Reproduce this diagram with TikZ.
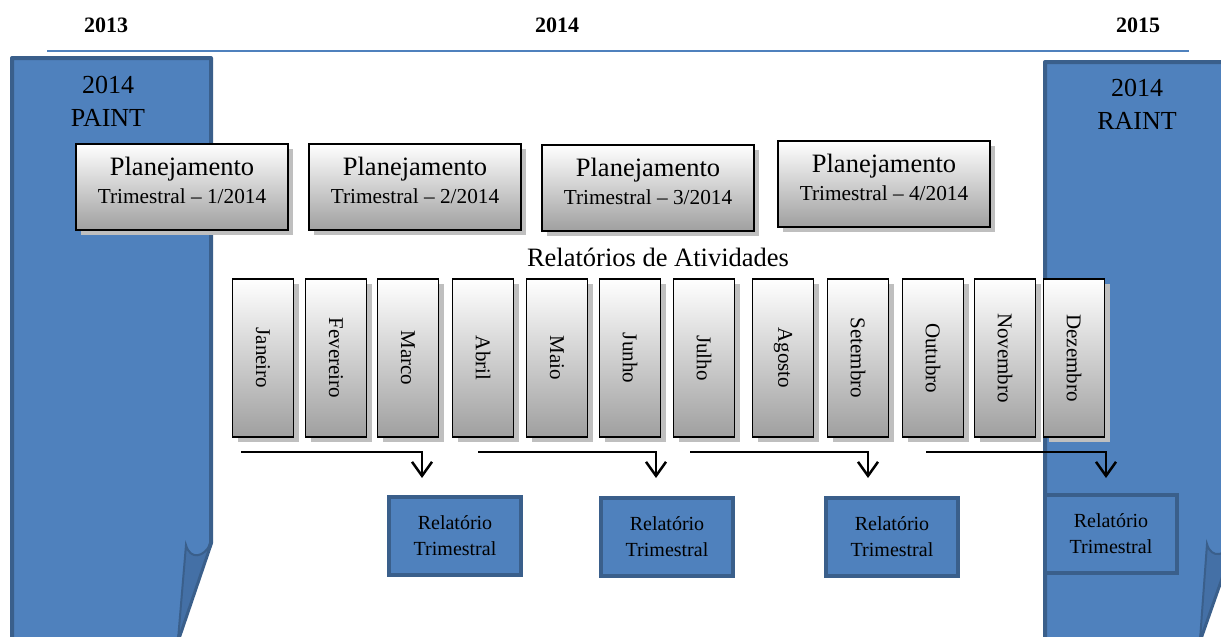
\documentclass[tikz,border=0pt]{standalone}
\usepackage{fontspec}
\setmainfont{Liberation Serif}
\usetikzlibrary{arrows.meta, shadows}
\definecolor{pageblue}{HTML}{4F81BD}
\definecolor{pageedge}{HTML}{3A5F8B}
\definecolor{flapblue}{HTML}{4470A6}

\begin{document}
\begin{tikzpicture}[x=1pt, y=-1pt,
    caixa/.style={draw=black, line width=1.5pt, top color=white, bottom color=gray!75,
      drop shadow={shadow xshift=5pt, shadow yshift=-5pt, fill=gray!50, opacity=1}},
    plano/.style={caixa, minimum width=212pt, minimum height=86pt, align=center, inner sep=0pt,
      text depth=13pt, font=\fontsize{26.5}{29}\selectfont},
    mes/.style={caixa, minimum width=61pt, minimum height=158pt, inner sep=0pt,
      font=\fontsize{21}{24}\selectfont},
    relat/.style={draw=pageedge, fill=pageblue, line width=4pt, minimum width=132pt,
      minimum height=78pt, align=center, inner sep=0pt, font=\fontsize{20}{26}\selectfont},
    fluxo/.style={line width=2.5pt, -{Straight Barb[length=14pt, width=20pt, line width=2.5pt]}},
    ano/.style={font=\fontsize{22}{24}\selectfont\bfseries},
    folha/.style={draw=pageedge, fill=pageblue, line width=4pt, line join=round}]
  \clip (0,0) rectangle (1221,637);

  \draw[folha] (12,58) -- (211,58) -- (211,543) -- (178,640) -- (12,640) -- cycle;
  \draw[pageedge, fill=flapblue, line width=2pt] (186,545) .. controls (190,560) and (204,558) .. (211,543)
    -- (178,640) -- cycle;
  \draw[folha] (1045,62) -- (1235,62) -- (1235,540) -- (1200,640) -- (1045,640) -- cycle;
  \draw[pageedge, fill=flapblue, line width=2pt] (1207,544) .. controls (1211,559) and (1226,557) .. (1235,540)
    -- (1200,640) -- cycle;

  \node[font=\fontsize{26}{33}\selectfont, align=center] (paint) at (108,101) {2014\\PAINT};
  \node[font=\fontsize{26}{33}\selectfont, align=center] (raint) at (1137,104) {2014\\RAINT};

  \node[ano] (a13) at (106,25) {2013};
  \node[ano] (a14) at (557,25) {2014};
  \node[ano] (a15) at (1138,25) {2015};
  \draw[pageblue, line width=2pt] (47,51) -- (1189,51);

  \foreach \i/\x/\y in {1/182/187, 2/415/187, 3/648/188, 4/884/184}
    \node[plano] (p\i) at (\x,\y) {Planejamento\\[-1pt]{\fontsize{21.3}{24}\selectfont Trimestral \textendash{} \i/2014}};

  \node[font=\fontsize{26.5}{28}\selectfont] (ativ) at (658,257) {Relatórios de Atividades};

  \foreach \i/\x/\nome in {1/263/Janeiro, 2/336/Fevereiro, 3/408/Marco, 4/483/Abril, 5/557/Maio,
      6/630/Junho, 7/704/Julho, 8/783/Agosto, 9/858/Setembro, 10/933/Outubro, 11/1005/Novembro,
      12/1074/Dezembro}
    \node[mes] (m\i) at (\x,358) {\rotatebox{-90}{\nome}};

  \node[relat] (r1) at (455,536) {Relatório\\Trimestral};
  \node[relat] (r2) at (667,537) {Relatório\\Trimestral};
  \node[relat] (r3) at (892,537) {Relatório\\Trimestral};
  \node[relat] (r4) at (1111,534) {Relatório\\Trimestral};

  \coordinate (s1) at (241,452);
  \coordinate (e1) at (422,478);
  \coordinate (s2) at (478,452);
  \coordinate (e2) at (656,478);
  \coordinate (s3) at (690,452);
  \coordinate (e3) at (868,478);
  \coordinate (s4) at (926,452);
  \coordinate (e4) at (1106,478);
  \foreach \i in {1,...,4}
    \draw[fluxo] (s\i) -| (e\i);
\end{tikzpicture}
\end{document}
